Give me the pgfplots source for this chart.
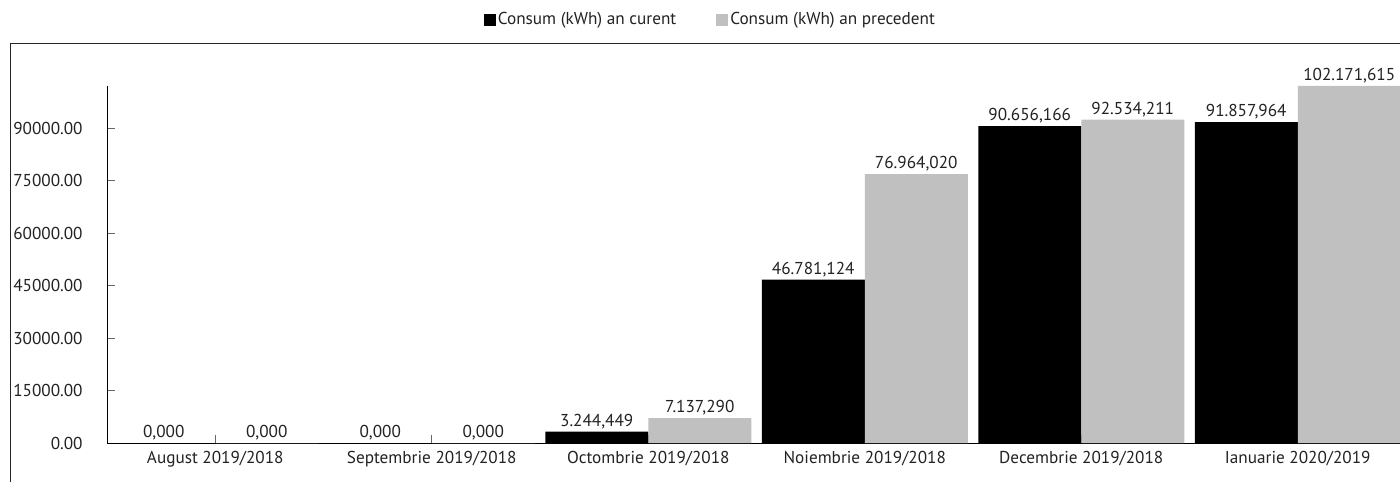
\documentclass[border=0pt]{standalone}
\usepackage{fontspec}
\setmainfont{PT Sans}
\usepackage{pgfplots}
\pgfplotsset{compat=1.18}
\definecolor{prevgrey}{HTML}{C0C0C0}
\definecolor{txt}{HTML}{222222}
\pgfplotstableread{
x y label
0 0 0,000
1 0 0,000
2 3244.449 3.244,449
3 46781.124 46.781,124
4 90656.166 90.656,166
5 91857.964 91.857,964
}\curent
\pgfplotstableread{
x y label
0 0 0,000
1 0 0,000
2 7137.290 7.137,290
3 76964.020 76.964,020
4 92534.211 92.534,211
5 102171.615 102.171,615
}\precedent
\newcommand\fs{\fontsize{8.6}{10.3}\selectfont}
\begin{document}
\begin{tikzpicture}[x=1pt,y=1pt]
\useasboundingbox (0,0) rectangle (700,240.5);
\draw[line width=0.5pt, black!85] (5,-2) -- (5,218.5) -- (702,218.5);
\begin{axis}[
 at={(53.5pt,19pt)}, anchor=south west,
 scale only axis, width=649.5pt, height=178.5pt,
 xmin=-0.5, xmax=5.5, ymin=0, ymax=102171.615,
 ybar=0pt, bar width=51.5pt,
 axis x line=bottom, axis y line=left,
 axis line style={-, black, line width=0.5pt},
 scaled y ticks=false,
 xtick={0,...,5},
 xticklabels={August 2019/2018,Septembrie 2019/2018,Octombrie 2019/2018,Noiembrie 2019/2018,Decembrie 2019/2018,Ianuarie 2020/2019},
 ytick={0,15000,30000,45000,60000,75000,90000},
 yticklabels={0.00,15000.00,30000.00,45000.00,60000.00,75000.00,90000.00},
 tick align=inside, major tick length=4pt,
 tick style={black!60, line width=0.5pt},
 clip=false,
 font=\fs,
 tick label style={font=\fs, text=txt},
 yticklabel style={inner sep=0pt, xshift=-12pt},
 xticklabel style={inner sep=0pt, yshift=-4pt},
 nodes near coords, point meta=explicit symbolic,
 every node near coord/.append style={font=\fs, text=txt, inner sep=1.2pt},
 legend columns=2,
 legend style={at={(0.4645,1.1849)}, anchor=center, draw=none, fill=none,
   font=\fs, text=txt,
   /tikz/every even column/.append style={column sep=19pt},
   inner sep=0pt, nodes={inner sep=1pt}},
 legend image code/.code={\fill[#1] (0pt,-3pt) rectangle (6pt,3pt);},
]
\addplot[fill=black, draw=none] table[x=x, y=y, meta=label] {\curent};
\addplot[fill=prevgrey, draw=none] table[x=x, y=y, meta=label] {\precedent};
\legend{Consum (kWh) an curent, Consum (kWh) an precedent}
\end{axis}
\end{tikzpicture}
\end{document}
